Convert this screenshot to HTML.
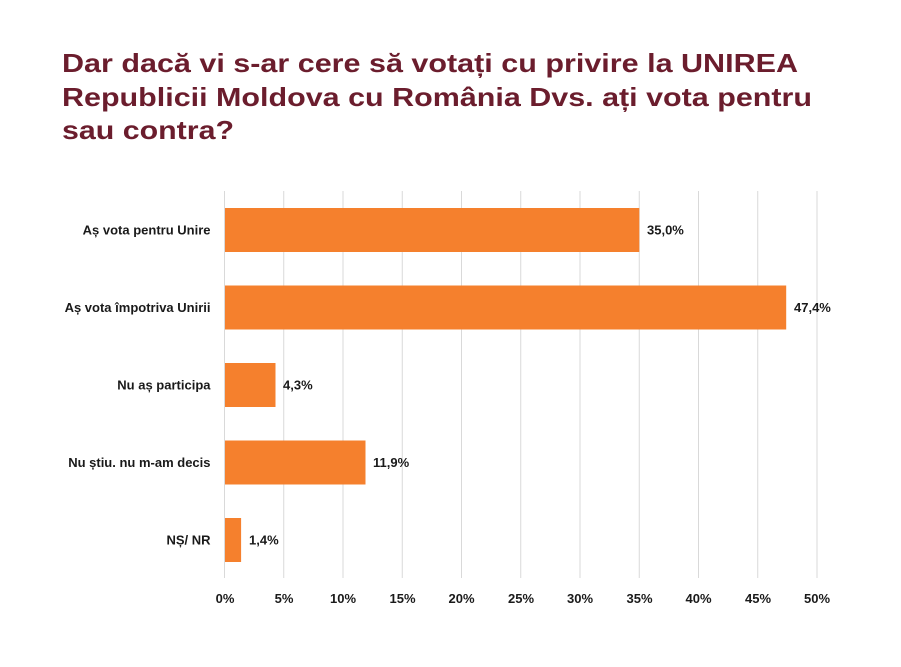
<!DOCTYPE html>
<html>
<head>
<meta charset="utf-8">
<style>
html,body{margin:0;padding:0;background:#fff;}
body{width:901px;height:667px;overflow:hidden;position:relative;}
svg{position:absolute;left:0;top:0;}
</style>
</head>
<body>
<svg width="901" height="667" viewBox="0 0 901 667" xmlns="http://www.w3.org/2000/svg">
  <rect width="901" height="667" fill="#ffffff"/>
  <g font-family="'Liberation Sans', Arial, sans-serif" font-weight="bold" fill="#6b1d2d" font-size="26">
    <text x="62" y="72" textLength="736" lengthAdjust="spacingAndGlyphs">Dar dacă vi s-ar cere să votați cu privire la UNIREA</text>
    <text x="62" y="106" textLength="750" lengthAdjust="spacingAndGlyphs">Republicii Moldova cu România Dvs. ați vota pentru</text>
    <text x="62" y="139" textLength="172" lengthAdjust="spacingAndGlyphs">sau contra?</text>
  </g>
  <!-- gridlines -->
  <g stroke="#d9d9d9" stroke-width="1">
    <line x1="224.5" y1="191" x2="224.5" y2="578"/>
    <line x1="283.75" y1="191" x2="283.75" y2="578"/>
    <line x1="343" y1="191" x2="343" y2="578"/>
    <line x1="402.25" y1="191" x2="402.25" y2="578"/>
    <line x1="461.5" y1="191" x2="461.5" y2="578"/>
    <line x1="520.75" y1="191" x2="520.75" y2="578"/>
    <line x1="580" y1="191" x2="580" y2="578"/>
    <line x1="639.25" y1="191" x2="639.25" y2="578"/>
    <line x1="698.5" y1="191" x2="698.5" y2="578"/>
    <line x1="757.75" y1="191" x2="757.75" y2="578"/>
    <line x1="817" y1="191" x2="817" y2="578"/>
  </g>
  <!-- bars -->
  <g fill="#f5802d">
    <rect x="225" y="208" width="414.3" height="44"/>
    <rect x="225" y="285.5" width="561.2" height="44"/>
    <rect x="225" y="363" width="50.5" height="44"/>
    <rect x="225" y="440.5" width="140.5" height="44"/>
    <rect x="225" y="518" width="16.1" height="44"/>
  </g>
  <!-- category labels -->
  <g font-family="'Liberation Sans', Arial, sans-serif" font-weight="bold" font-size="13" fill="#1a1a1a" text-anchor="end">
    <text x="210.5" y="234.5">Aș vota pentru Unire</text>
    <text x="210.5" y="312">Aș vota împotriva Unirii</text>
    <text x="210.5" y="389.5">Nu aș participa</text>
    <text x="210.5" y="467">Nu știu. nu m-am decis</text>
    <text x="210.5" y="544.5">NȘ/ NR</text>
  </g>
  <!-- value labels -->
  <g font-family="'Liberation Sans', Arial, sans-serif" font-weight="bold" font-size="13" fill="#1a1a1a">
    <text x="647" y="234.5">35,0%</text>
    <text x="794" y="312">47,4%</text>
    <text x="283" y="389.5">4,3%</text>
    <text x="373" y="467">11,9%</text>
    <text x="249" y="544.5">1,4%</text>
  </g>
  <!-- tick labels -->
  <g font-family="'Liberation Sans', Arial, sans-serif" font-weight="bold" font-size="13" fill="#1a1a1a" text-anchor="middle">
    <text x="225" y="603">0%</text>
    <text x="284" y="603">5%</text>
    <text x="343" y="603">10%</text>
    <text x="402.5" y="603">15%</text>
    <text x="461.5" y="603">20%</text>
    <text x="521" y="603">25%</text>
    <text x="580" y="603">30%</text>
    <text x="639.5" y="603">35%</text>
    <text x="698.5" y="603">40%</text>
    <text x="758" y="603">45%</text>
    <text x="817" y="603">50%</text>
  </g>
</svg>
</body>
</html>
